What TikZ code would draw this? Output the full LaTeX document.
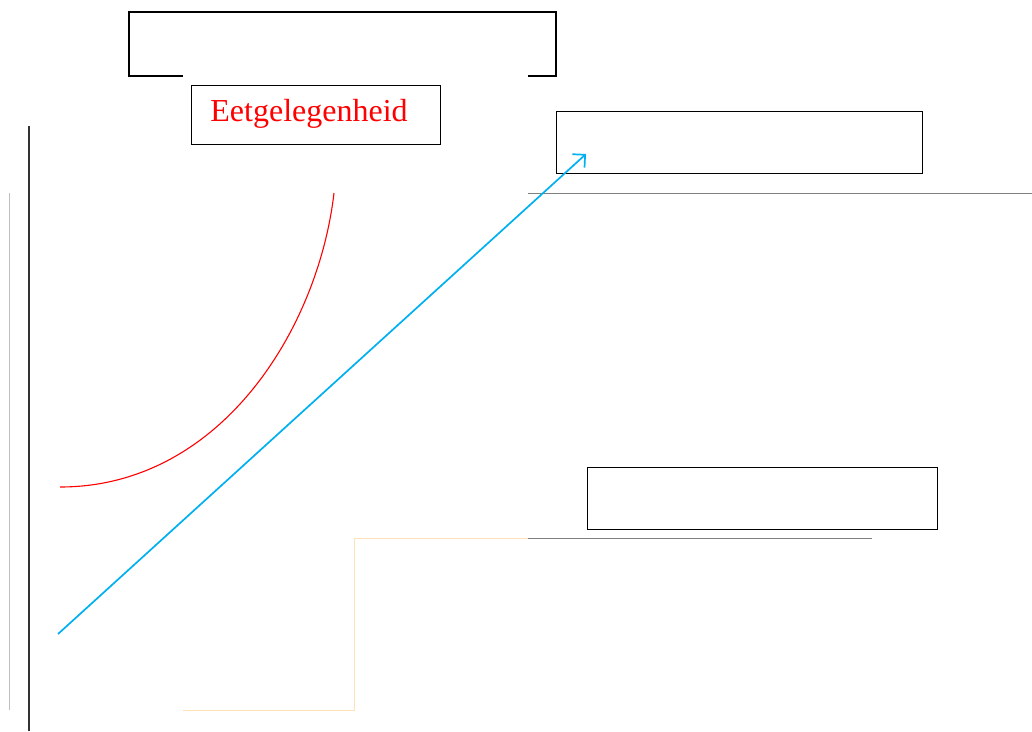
\documentclass[tikz,border=0pt]{standalone}
\usepackage{fontspec}
\setmainfont{Liberation Serif}
\usetikzlibrary{arrows.meta}
\definecolor{skyline}{HTML}{00B0F0}
\definecolor{peachline}{HTML}{FFE2B8}
\tikzset{
  box/.style={draw=black,line width=1.1pt,inner sep=0pt,anchor=north west},
  guide/.style={draw=black!50,line width=0.8pt}
}
\begin{document}
\begin{tikzpicture}[x=1pt,y=-1pt]
        \useasboundingbox (0,0) rectangle (1032,731);
        %% open frame on top
        \draw[line width=1.1pt] (183,76) -- (129,76) -- (129,12) -- (556,12) -- (556,76) -- (528,76);
        %% boxes
        \node[box,minimum width=249pt,minimum height=59pt] (eat) at (191,85) {};
        \node[text=red,font=\fontsize{32}{36}\selectfont,xshift=-7pt,yshift=1pt] (eatlabel) at (eat.center) {Eetgelegenheid};
        \node[box,minimum width=366pt,minimum height=62pt] (upper) at (556,111) {};
        \node[box,minimum width=350pt,minimum height=62pt] (lower) at (587,467) {};
        %% vertical lines on the left
        \draw[line width=1.5pt,black!80] (29,126) -- (29,731);
        \draw[line width=0.8pt,black!25] (9,193) -- (9,710);
        %% grey levels
        \draw[guide] (528,193) -- (1032,193);
        \draw[guide] (528,538) -- (872,538);
        %% step
        \draw[line width=0.9pt,peachline] (183,710) -- (354,710) -- (354,538) -- (528,538);
        %% red curve
        \draw[line width=1.1pt,red] (60,487) .. controls (220,487) and (318,330) .. (334,193);
        %% blue arrow
        \coordinate (tail) at (58,634);
        \coordinate (tip) at (586,154);
        \draw[line width=1.7pt,skyline,-{Straight Barb[length=9pt,width=18pt]}] (tail) -- (tip);
\end{tikzpicture}
\end{document}
